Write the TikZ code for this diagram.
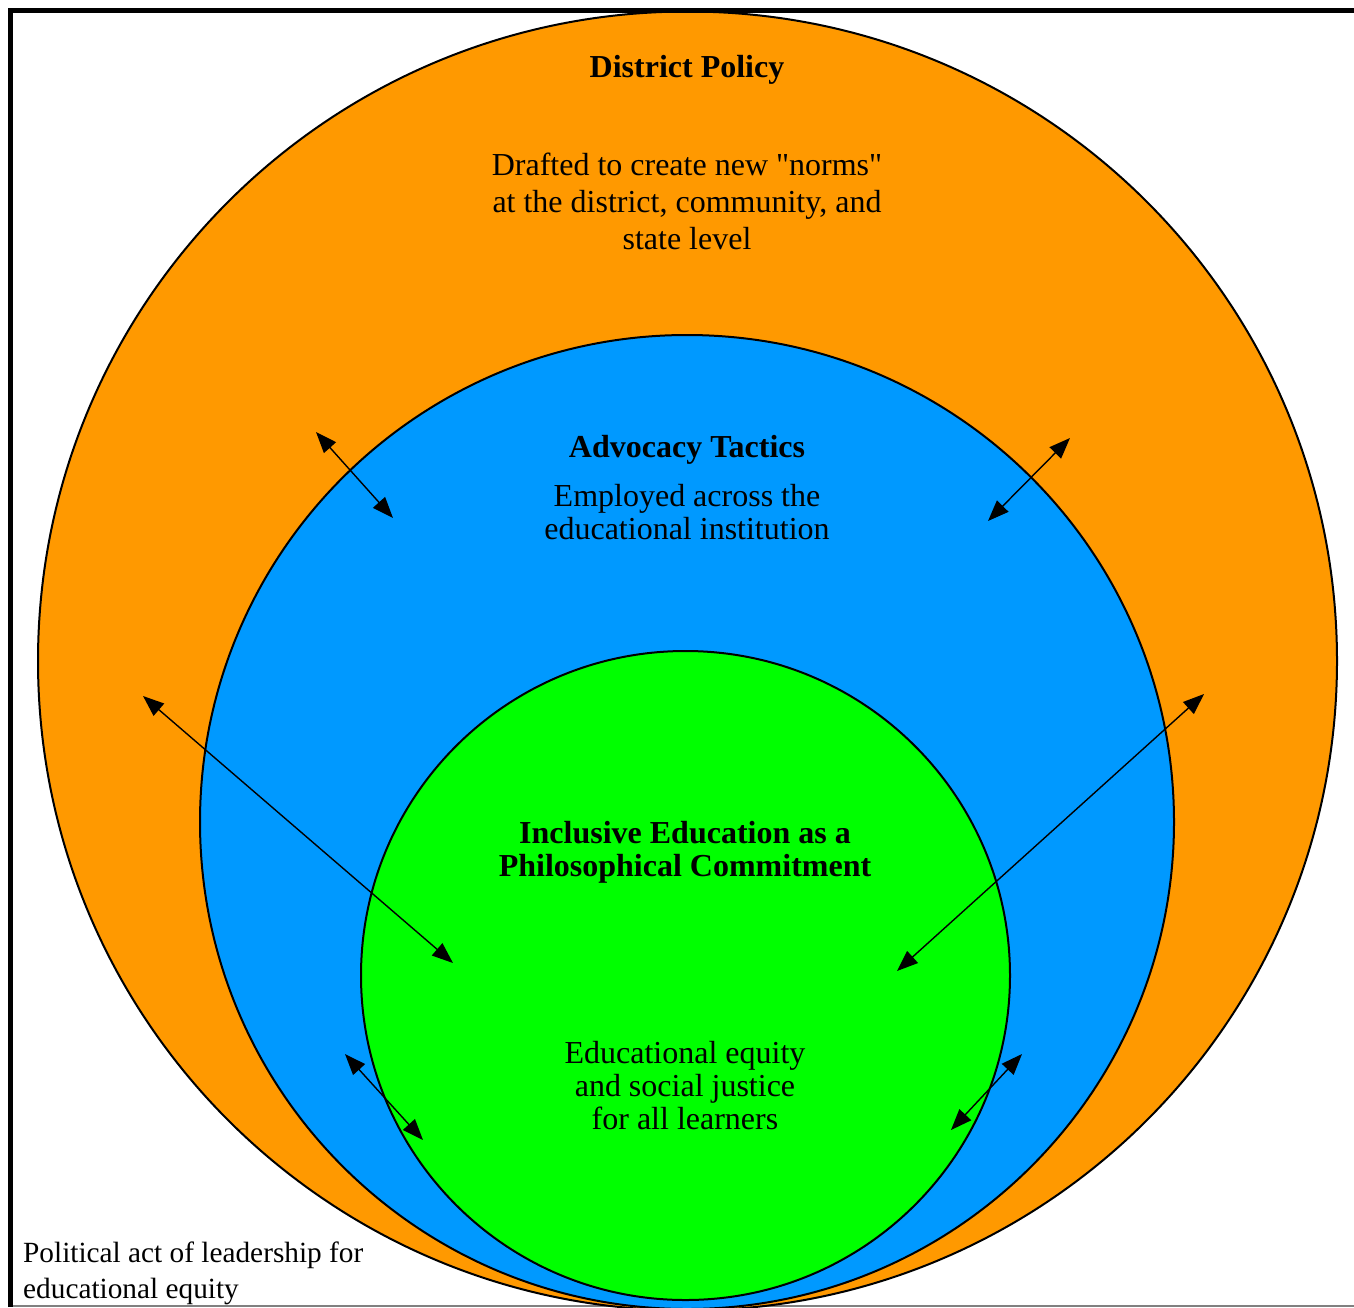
\documentclass[tikz,border=0pt]{standalone}
\usepackage{fontspec}
\setmainfont{Liberation Serif}[Ligatures=TeXOff]
\usetikzlibrary{arrows.meta}
\definecolor{ringorange}{HTML}{FF9900}
\definecolor{ringblue}{HTML}{0099FF}
\definecolor{ringgreen}{HTML}{00FF00}
\tikzset{
  ring/.style={circle, draw=black, line width=2pt, inner sep=0pt},
  link/.style={line width=1.4pt, {Triangle[length=21pt,width=16pt]}-{Triangle[length=21pt,width=16pt]}},
  heading/.style={font=\bfseries\fontsize{32}{33}\selectfont, align=center, inner sep=0pt},
  bigbody/.style={font=\fontsize{32}{37}\selectfont, align=center, inner sep=0pt},
  body/.style={font=\fontsize{32}{33}\selectfont, align=center, inner sep=0pt},
}
\begin{document}
\begin{tikzpicture}[x=1pt,y=-1pt]
\useasboundingbox (0,0) rectangle (1354,1307);
\begin{scope}
\clip (0,0) rectangle (1354,1307);
% frame
\draw[gray, line width=1.5pt] (8,1306) -- (1354,1306);
% nested rings
\node[ring, fill=ringorange, minimum size=1299pt] (policy) at (687.5,661) {};
\node[ring, fill=ringblue, minimum size=974pt] (advocacy) at (687,822) {};
\node[ring, fill=ringgreen, minimum size=649pt] (inclusive) at (685.5,975.5) {};
\draw[black, line width=5pt] (10.5,1307) -- (10.5,10.5) -- (1354,10.5);
\end{scope}
% arrow end points
\coordinate (a1) at (316,432);  \coordinate (b1) at (393,518);
\coordinate (a2) at (1070,438); \coordinate (b2) at (988,521);
\coordinate (a3) at (143,696);  \coordinate (b3) at (453,963);
\coordinate (a4) at (1204,694); \coordinate (b4) at (897,971);
\coordinate (a5) at (345,1054); \coordinate (b5) at (423,1140);
\coordinate (a6) at (1022,1054);\coordinate (b6) at (951,1130);
\foreach \i in {1,...,6} \draw[link] (a\i) -- (b\i);
% labels
\node[heading] (t1) at (687,70) {District Policy};
\node[bigbody] (t2) at (687,201) {Drafted to create new "norms"\\at the district, community, and\\state level};
\node[heading] (t3) at (687,450) {Advocacy Tactics};
\node[body] (t4) at (687,512) {Employed across the\\educational institution};
\node[heading] (t5) at (685,852) {Inclusive Education as a\\Philosophical Commitment};
\node[body] (t6) at (685,1086) {Educational equity\\and social justice\\for all learners};
\node[body, align=left, anchor=west, font=\fontsize{29.3}{36}\selectfont] (t7) at (23,1273) {Political act of leadership for\\educational equity};
\end{tikzpicture}
\end{document}
